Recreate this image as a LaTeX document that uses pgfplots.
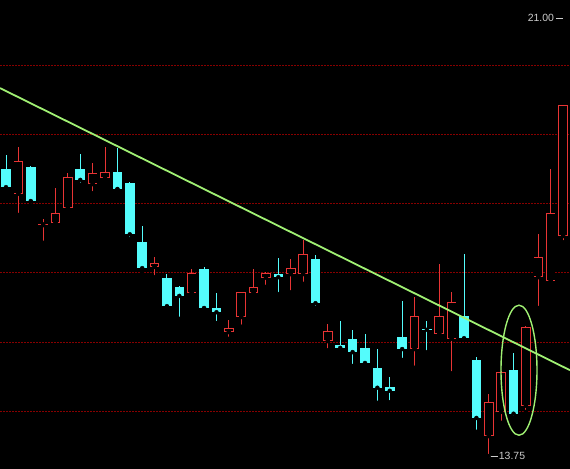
\documentclass[border=0pt]{standalone}
\usepackage{pgfplots}
\usepackage{pgfplotstable}
\pgfplotsset{compat=1.18}
\usepackage{fontspec}
\setmainfont{Liberation Sans}
\definecolor{cyanc}{RGB}{84,252,252}
\definecolor{redc}{RGB}{232,52,52}
\definecolor{gridc}{RGB}{135,0,0}
\definecolor{trendc}{RGB}{160,240,115}
\definecolor{labelc}{RGB}{205,205,205}
% i open high low close  (rising candles, red hollow)
\pgfplotstableread{
i o h l c
1 18.09 18.86 17.74 18.63
3 17.57 17.67 17.28 17.59
4 17.61 18.19 17.60 17.77
5 17.86 18.43 17.85 18.37
7 18.25 18.60 18.10 18.43
8 18.35 18.86 18.32 18.45
12 16.88 17.04 16.71 16.94
15 16.45 16.85 16.44 16.78
18 15.80 16.00 15.69 15.87
19 16.05 16.47 15.89 16.46
20 16.45 16.85 16.44 16.55
21 16.70 16.79 16.55 16.78
23 16.76 17.01 16.46 16.86
24 16.76 17.33 16.60 17.09
26 15.65 15.93 15.50 15.82
33 15.52 16.38 15.21 16.07
35 15.77 16.93 15.76 16.07
36 15.69 16.46 15.12 16.30
39 14.08 14.78 13.75 14.64
40 14.48 15.15 14.30 15.14
42 14.58 15.90 14.48 15.89
43 16.71 17.42 16.20 17.04
44 16.65 18.50 16.60 17.77
45 17.39 19.56 17.29 19.56
}\upcandles
% falling candles, cyan filled
\pgfplotstableread{
i o h l c
0 18.50 18.73 18.14 18.20
2 18.53 18.55 17.96 17.97
6 18.50 18.75 18.24 18.32
9 18.45 18.85 18.16 18.17
10 18.27 18.28 17.34 17.42
11 17.29 17.56 16.80 16.86
13 16.70 16.76 16.22 16.23
14 16.55 16.56 16.02 16.40
16 16.85 16.88 16.19 16.20
17 16.20 16.45 15.95 16.13
22 16.76 17.03 16.43 16.71
25 17.01 17.08 16.20 16.28
27 15.59 15.98 15.50 15.54
28 15.69 15.84 15.24 15.47
29 15.54 15.77 15.24 15.29
30 15.21 15.52 14.63 14.88
31 14.89 15.06 14.64 14.83
32 15.72 16.32 15.34 15.52
34 15.86 15.98 15.47 15.84
37 16.07 17.09 15.69 15.70
38 15.34 15.39 14.15 14.38
41 15.17 15.46 14.38 14.45
}\dncandles
\pgfplotsset{
  seg/.style={only marks, mark=none,
    error bars/.cd, y dir=plus, y explicit, error mark=none,
    error bar style={solid, line cap=butt, #1}},
}
\begin{document}
\begin{tikzpicture}
\begin{axis}[name=ax,
  scale only axis, width=570bp, height=469bp,
  xmin=-0.485, xmax=45.56, ymin=13.535, ymax=21.298,
  axis background/.style={fill=black},
  axis line style={draw=none}, tick style={draw=none},
  xtick=\empty, ytick=\empty,
  clip=true,
]
% dotted grid lines
\foreach \g in {14.486,15.629,16.787,17.930,19.072,20.214}{
  \edef\tmp{\noexpand\addplot[gridc, line width=1.4bp, dash pattern=on 1.5bp off 1.5bp] coordinates {(-0.485,\g) (45.56,\g)};}\tmp
}
% wicks
\addplot[seg={draw=redc, line width=1bp}] table[x=i, y=l, y error plus expr=\thisrow{h}-\thisrow{l}] {\upcandles};
\addplot[seg={draw=cyanc, line width=1bp}] table[x=i, y=l, y error plus expr=\thisrow{h}-\thisrow{l}] {\dncandles};
% bodies
\addplot[seg={draw=cyanc, line width=9.6bp}] table[x=i, y=c, y error plus expr=\thisrow{o}-\thisrow{c}] {\dncandles};
\addplot[seg={draw=redc, line width=9.6bp}] table[x=i, y=o, y error plus expr=\thisrow{c}-\thisrow{o}] {\upcandles};
\addplot[seg={draw=black, line width=7.8bp}] table[x=i, y expr=\thisrow{o}+0.015, y error plus expr={max(\thisrow{c}-\thisrow{o}-0.03,0)}] {\upcandles};
% trend line
\addplot[trendc, line width=1.8bp] coordinates {(-0.485,19.84) (45.56,15.17)};
% ellipse annotation
\draw[trendc, line width=1.4bp] (axis cs:41.44,15.17) ellipse [x radius=18bp, y radius=65bp];
% top border
\draw[labelc, line width=1bp] (rel axis cs:0,1) -- (rel axis cs:1,1);
% price labels
\node[anchor=east, text=labelc, font=\fontsize{10.5}{12}\selectfont, inner sep=0pt] at (axis cs:44.28,21.0) {21.00};
\draw[labelc, line width=0.8bp] (axis cs:44.43,21.0) -- (axis cs:45.0,21.0);
\fill[labelc] (axis cs:39.05,13.75) circle [radius=1.5bp];
\draw[labelc, line width=0.8bp] (axis cs:39.05,13.75) -- (axis cs:39.75,13.75);
\node[anchor=west, text=labelc, font=\fontsize{10.5}{12}\selectfont, inner sep=0pt] at (axis cs:39.8,13.75) {13.75};
\end{axis}
\pgfresetboundingbox
\path (ax.south west) rectangle (ax.north east);
\end{tikzpicture}
\end{document}
